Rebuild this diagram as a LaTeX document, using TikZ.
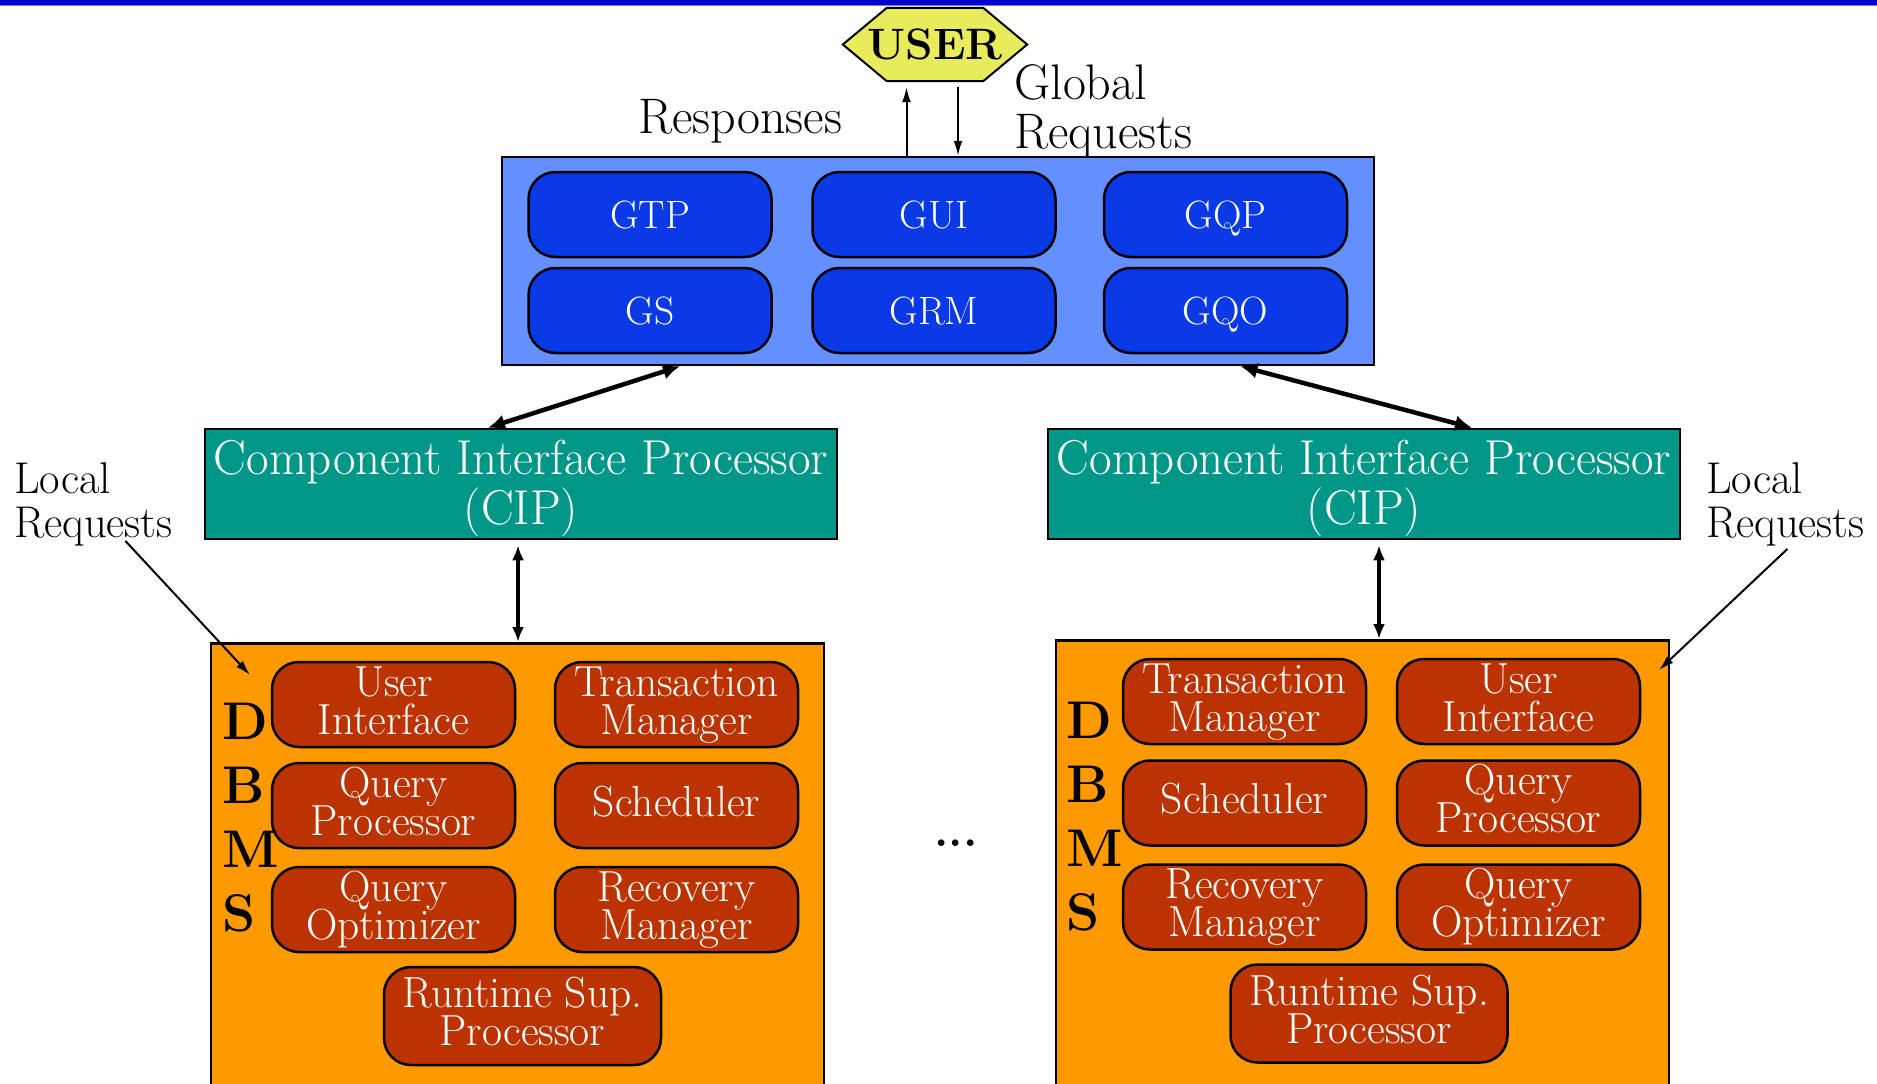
\documentclass[tikz,border=0pt]{standalone}
\usepackage{fontspec}
\usetikzlibrary{arrows.meta,backgrounds}

\definecolor{barblue}{RGB}{0,0,205}
\definecolor{barlight}{RGB}{120,120,240}
\definecolor{useryellow}{RGB}{232,236,92}
\definecolor{panelblue}{RGB}{100,143,255}
\definecolor{modblue}{RGB}{10,58,230}
\definecolor{cipteal}{RGB}{0,150,136}
\definecolor{dbmsorange}{RGB}{255,153,0}
\definecolor{modbrown}{RGB}{187,51,0}

% struts that fix the line boxes of the multi-line labels
\newcommand\lnstrut{\rule[-0.25em]{0pt}{1em}}
\newcommand\cipstrut{\rule[-0.2em]{0pt}{1.1em}}
% keep the set baselineskip even where the struts overlap
\newcommand\tightlines{\lineskiplimit=-100pt\lineskip=0pt}

\tikzset{
  userbox/.style={inner sep=0pt, minimum width=184pt, minimum height=73pt,
    text height=30pt, text depth=0pt, font=\fontsize{44}{48}\selectfont\bfseries},
  gpanelbox/.style={draw=black, line width=2.5pt, fill=panelblue, inner sep=0pt},
  gmod/.style={draw=black, line width=2.5pt, fill=modblue, rounded corners=27pt,
    minimum width=243pt, minimum height=85pt, inner sep=0pt, text=white,
    text height=27pt, text depth=0pt, font=\fontsize{39.5}{44}\selectfont},
  cipbox/.style={draw=black, line width=2.5pt, fill=cipteal, minimum width=632pt,
    minimum height=110pt, inner sep=0pt, text=white, align=center,
    font=\fontsize{49}{50}\selectfont\tightlines},
  dbmsbox/.style={draw=black, line width=2.5pt, fill=dbmsorange, minimum width=613pt,
    minimum height=500pt, inner sep=0pt, anchor=north},
  dmod/.style={draw=black, line width=2.5pt, fill=modbrown, rounded corners=27pt,
    minimum width=243pt, minimum height=85pt, inner sep=0pt, text=white, align=center,
    font=\fontsize{43.5}{38}\selectfont\tightlines},
  dwide/.style={dmod, minimum width=277pt, minimum height=98pt},
  dbmsletters/.style={inner sep=0pt, anchor=north west, align=left,
    font=\fontsize{53}{64}\selectfont\bfseries},
  lbl/.style={inner sep=0pt, align=left, font=\fontsize{50}{49}\selectfont\tightlines},
  loclbl/.style={inner sep=0pt, align=left, anchor=north west, font=\fontsize{44.5}{44}\selectfont\tightlines},
  arr/.style={line width=2pt, -{Latex[length=15pt,width=9pt]}},
  bigarr/.style={line width=4.5pt, {Latex[length=17pt,width=16pt]}-{Latex[length=17pt,width=16pt]}},
  vertarr/.style={line width=4pt, {Latex[length=15pt,width=12pt]}-{Latex[length=15pt,width=12pt]}},
}

\begin{document}
\begin{tikzpicture}[x=1pt,y=-1pt]
\useasboundingbox (0,0) rectangle (1877,1084);
\clip (0,0) rectangle (1877,1084);

% title rule along the top edge
\fill[barblue] (0,0) rectangle (1877,4.5);
\draw[barlight, line width=1pt] (0,5.3) -- (1877,5.3);

% user hexagon
\node[userbox] (user) at (935,44.5) {USER};
\begin{scope}[on background layer]
  \draw[fill=useryellow, line width=2pt, line join=miter]
    (user.west) -- ([xshift=44pt]user.north west) -- ([xshift=-44pt]user.north east)
    -- (user.east) -- ([xshift=-44pt]user.south east) -- ([xshift=44pt]user.south west) -- cycle;
\end{scope}

% global layer
\node[gpanelbox, minimum width=872pt, minimum height=208pt] (gpanel) at (938,261) {};
\node[gmod] (gtp) at (650,214.5) {GTP};
\node[gmod] (gui) at (934,214.5) {GUI};
\node[gmod] (gqp) at (1225.5,214.5) {GQP};
\node[gmod] (gs)  at (650,310.5) {GS};
\node[gmod] (grm) at (934,310.5) {GRM};
\node[gmod] (gqo) at (1225.5,310.5) {GQO};

\node[lbl, anchor=base west] (resp) at (638,133) {Responses};
\node[lbl, anchor=north west] (greq) at (1014,64) {Global\\Requests};

\coordinate (respTop) at ([xshift=-28.5pt]user.south);
\coordinate (reqTop) at ([xshift=23pt]user.south);
\draw[arr, shorten >=6pt] (respTop |- gpanel.north) -- (respTop);
\draw[arr, shorten <=6pt] (reqTop) -- (reqTop |- gpanel.north);

% component interface processors
\node[cipbox] (cipL) at (521,484) {\cipstrut Component Interface Processor\\\cipstrut (CIP)};
\node[cipbox] (cipR) at (1364,484) {\cipstrut Component Interface Processor\\\cipstrut (CIP)};

\coordinate (gsFoot) at ([xshift=30pt]gs.south);
\coordinate (gqoFoot) at ([xshift=15pt]gqo.south);
\coordinate (cipLTop) at ([xshift=-33pt]cipL.north);
\coordinate (cipRTop) at ([xshift=108pt]cipR.north);
\draw[bigarr] (gsFoot |- gpanel.south) -- (cipLTop);
\draw[bigarr] (gqoFoot |- gpanel.south) -- (cipRTop);

% local DBMS, left
\node[dbmsbox] (dbmsL) at (517.5,642) {};
\node[dmod] (uiL)  at (393.5,704.5) {\lnstrut User\\\lnstrut Interface};
\node[dmod] (tmL)  at (676.5,704.5) {\lnstrut Transaction\\\lnstrut Manager};
\node[dmod] (qpL)  at (393.5,805.5) {\lnstrut Query\\\lnstrut Processor};
\node[dmod] (schL) at (676.5,805.5) {\lnstrut Scheduler};
\node[dmod] (qoL)  at (393.5,909.5) {\lnstrut Query\\\lnstrut Optimizer};
\node[dmod] (rmL)  at (676.5,909.5) {\lnstrut Recovery\\\lnstrut Manager};
\node[dwide] (rspL) at (522.5,1016) {\lnstrut Runtime Sup.\\\lnstrut Processor};
\node[dbmsletters] (lettersL) at (222,703) {D\\B\\M\\S};

% local DBMS, right
\node[dbmsbox] (dbmsR) at (1362.5,639) {};
\node[dmod] (tmR)  at (1244.5,701.5) {\lnstrut Transaction\\\lnstrut Manager};
\node[dmod] (uiR)  at (1518.5,701.5) {\lnstrut User\\\lnstrut Interface};
\node[dmod] (schR) at (1244.5,803) {\lnstrut Scheduler};
\node[dmod] (qpR)  at (1518.5,803) {\lnstrut Query\\\lnstrut Processor};
\node[dmod] (rmR)  at (1244.5,907) {\lnstrut Recovery\\\lnstrut Manager};
\node[dmod] (qoR)  at (1518.5,907) {\lnstrut Query\\\lnstrut Optimizer};
\node[dwide] (rspR) at (1369,1013.5) {\lnstrut Runtime Sup.\\\lnstrut Processor};
\node[dbmsletters] (lettersR) at (1066,702) {D\\B\\M\\S};

% CIP <-> DBMS links
\coordinate (cipLFoot) at ([xshift=-3pt]cipL.south);
\coordinate (cipRFoot) at ([xshift=15pt]cipR.south);
\draw[vertarr, shorten <=5pt] (cipLFoot) -- (cipLFoot |- dbmsL.north);
\draw[vertarr, shorten <=5pt] (cipRFoot) -- (cipRFoot |- dbmsR.north);

% more sites
\node[inner sep=0pt, anchor=base, font=\fontsize{46}{50}\selectfont\bfseries] (more) at (956,846) {...};

% local requests
\node[loclbl] (locL) at (14,462) {Local\\Requests};
\node[loclbl] (locR) at (1706,462) {Local\\Requests};
\coordinate (locLTip) at (250,675);
\coordinate (locRTip) at (1659,670);
\draw[arr] ([xshift=32pt,yshift=5pt]locL.south) -- (locLTip);
\draw[arr] ([xshift=2pt,yshift=-3pt]locR.south) -- (locRTip);
\end{tikzpicture}
\end{document}
